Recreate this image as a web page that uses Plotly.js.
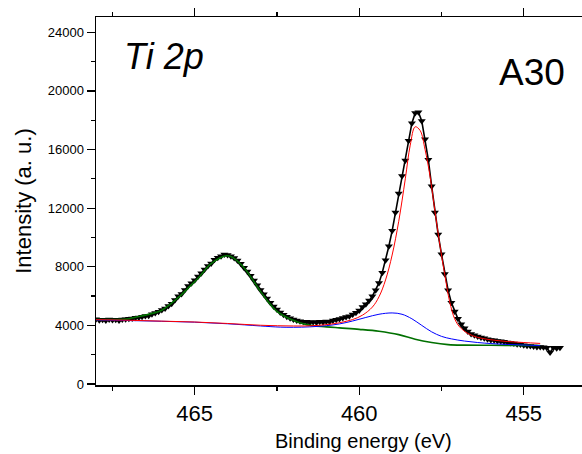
<!DOCTYPE html>
<html>
<head>
<meta charset="utf-8">
<script src="https://cdn.plot.ly/plotly-3.0.1.min.js"></script>
<style>html,body{margin:0;padding:0;background:#fff;}#chart{width:582px;height:454px;}</style>
</head>
<body>
<div id="chart"></div>
<script>
// Measured spectrum (binding energy in eV, intensity in counts)
const measEnergy = [
468.0,467.9,467.8,467.7,467.6,467.5,467.4,467.3,467.2,467.1,
467.0,466.9,466.8,466.7,466.6,466.5,466.4,466.3,466.2,466.1,
466.0,465.9,465.8,465.7,465.6,465.5,465.4,465.3,465.2,465.1,
465.0,464.9,464.8,464.7,464.6,464.5,464.4,464.3,464.2,464.1,
464.0,463.9,463.8,463.7,463.6,463.5,463.4,463.3,463.2,463.1,
463.0,462.9,462.8,462.7,462.6,462.5,462.4,462.3,462.2,462.1,
462.0,461.9,461.8,461.7,461.6,461.5,461.4,461.3,461.2,461.1,
461.0,460.9,460.8,460.7,460.6,460.5,460.4,460.3,460.2,460.1,
460.0,459.9,459.8,459.7,459.6,459.5,459.4,459.3,459.2,459.1,
459.0,458.9,458.8,458.7,458.6,458.5,458.4,458.3,458.2,458.1,
458.0,457.9,457.8,457.7,457.6,457.5,457.4,457.3,457.2,457.1,
457.0,456.9,456.8,456.7,456.6,456.5,456.4,456.3,456.2,456.1,
456.0,455.9,455.8,455.7,455.6,455.5,455.4,455.3,455.2,455.1,
455.0,454.9,454.8,454.7,454.6,454.5,454.4,454.3,454.2,454.1,
454.0,453.9];
const measIntensity = [
4420,4350,4390,4330,4400,4360,4380,4330,4410,4420,
4450,4470,4520,4540,4590,4640,4660,4760,4850,4930,
5050,5160,5330,5480,5740,5980,6150,6420,6690,6880,
7080,7330,7560,7820,8060,8230,8480,8620,8720,8830,
8810,8720,8600,8430,8200,7940,7680,7380,7060,6740,
6420,6120,5830,5540,5290,5080,4880,4720,4590,4480,
4400,4330,4290,4250,4240,4200,4230,4190,4240,4210,
4270,4250,4330,4380,4430,4500,4570,4620,4740,4860,
5020,5250,5450,5690,5990,6400,6900,7600,8450,9400,
10450,11700,13000,14200,15250,16600,17800,18500,18550,17950,
16700,15300,13500,11700,10200,8850,7500,6400,5550,4950,
4450,4080,3800,3580,3420,3320,3240,3180,3120,3060,
3010,2980,2940,2920,2880,2840,2800,2760,2720,2690,
2640,2610,2590,2560,2530,2530,2500,2480,2150,2470,
2440,2480];

// Fit component: Ti 2p3/2 (red) incl. background
const redEnergy = [468.0,467.0,466.0,465.0,464.0,463.0,462.0,461.5,461.0,460.6,460.2,459.9,459.6,459.4,459.2,459.0,458.8,458.6,458.45,458.3,458.15,458.0,457.85,457.7,457.55,457.4,457.25,457.1,456.95,456.7,456.4,456.0,455.5,455.0,454.5];
const redIntensity = [4390,4350,4290,4230,4130,4010,3960,3970,4050,4180,4400,4700,5250,5950,7100,8800,11100,14000,16300,17550,17300,16000,14200,11800,9500,7450,5600,4450,3900,3450,3180,3020,2900,2830,2770];

// Fit component: secondary Ti species (blue) incl. background
const blueEnergy = [468.0,467.0,466.0,465.0,464.0,463.0,462.4,462.0,461.5,461.0,460.6,460.2,459.8,459.4,459.0,458.7,458.4,458.1,457.8,457.5,457.2,456.8,456.4,456.0,455.5,455.0,454.5];
const blueIntensity = [4370,4330,4280,4220,4110,3960,3880,3870,3900,3980,4100,4300,4540,4760,4850,4760,4450,4000,3560,3250,3080,2930,2830,2760,2700,2660,2620];

// Fit component: Ti 2p1/2 (green) incl. background
const greenEnergy = [468.0,467.5,467.0,466.8,466.5,466.2,466.0,465.76,465.46,465.15,464.85,464.54,464.24,464.05,463.9,463.54,463.24,462.93,462.5,462.1,461.6,461.0,460.6,460.0,459.4,458.8,458.3,457.8,457.3,456.8,456.0,455.0,454.5];
const greenIntensity = [4390,4400,4450,4560,4700,4870,5030,5420,5980,6660,7340,8140,8600,8750,8700,8030,7120,6100,4960,4440,4050,3900,3830,3730,3600,3370,3050,2830,2690,2650,2640,2635,2630];

const xTickVals = [465, 460, 455];
const xTickText = ['465', '460', '455'];
const yTickVals = [0, 4000, 8000, 12000, 16000, 20000, 24000];
const yTickText = ['0', '4000', '8000', '12000', '16000', '20000', '24000'];

const traces = [
  {x: measEnergy, y: measIntensity, type: 'scatter', mode: 'lines+markers',
   line: {color: '#000', width: 1.6},
   marker: {symbol: 'triangle-down', size: 7, color: '#000'}, hoverinfo: 'skip'},
  {x: greenEnergy, y: greenIntensity, type: 'scatter', mode: 'lines',
   line: {color: '#007000', width: 1.6, shape: 'spline', smoothing: 1}},
  {x: blueEnergy, y: blueIntensity, type: 'scatter', mode: 'lines',
   line: {color: '#0000ff', width: 1, shape: 'spline', smoothing: 1}},
  {x: redEnergy, y: redIntensity, type: 'scatter', mode: 'lines',
   line: {color: '#ff0000', width: 1, shape: 'spline', smoothing: 1}}
];

const fontFam = 'Liberation Sans, Arial, sans-serif';
const layout = {
  width: 582, height: 454,
  margin: {l: 96, r: 0, t: 17, b: 68.5, pad: 0},
  paper_bgcolor: '#fff', plot_bgcolor: '#fff',
  showlegend: false,
  font: {family: fontFam, color: '#000'},
  xaxis: {
    range: [468.0, 453.23], autorange: false,
    showgrid: false, zeroline: false,
    showline: true, linecolor: '#000', linewidth: 1.5,
    mirror: 'ticks',
    ticks: 'outside', ticklen: 8, tickwidth: 1.2, tickcolor: '#000',
    tickmode: 'array', tickvals: xTickVals, ticktext: xTickText,
    tickfont: {size: 22, family: fontFam},
    minor: {tickmode: 'array', tickvals: [467.5, 462.5, 457.5], ticks: 'outside', ticklen: 4, tickwidth: 1.2, tickcolor: '#000', showgrid: false}
  },
  yaxis: {
    range: [-68, 25043], autorange: false,
    showgrid: false, zeroline: false,
    showline: true, linecolor: '#000', linewidth: 1.5,
    ticks: 'outside', ticklen: 8, tickwidth: 1.2, tickcolor: '#000',
    tickmode: 'array', tickvals: yTickVals, ticktext: yTickText,
    tickfont: {size: 13, family: fontFam},
    minor: {tickmode: 'array', tickvals: [2000, 6000, 10000, 14000, 18000, 22000], ticks: 'outside', ticklen: 4, tickwidth: 1.2, tickcolor: '#000', showgrid: false},
    title: {text: 'Intensity (a. u.)', font: {size: 22, family: fontFam}, standoff: 10}
  },
  annotations: [
    {xref: 'paper', yref: 'paper', x: 0.0535, y: 0.8915, xanchor: 'left', yanchor: 'middle',
     text: '<i>Ti 2p</i>', showarrow: false, font: {size: 36, family: fontFam, color: '#000'}},
    {xref: 'paper', yref: 'paper', x: 0.8245, y: 0.848, xanchor: 'left', yanchor: 'middle',
     text: 'A30', showarrow: false, font: {size: 37, family: fontFam, color: '#000'}},
    {xref: 'paper', yref: 'paper', x: 0.5514, y: -0.116, xanchor: 'center', yanchor: 'top',
     text: 'Binding energy (eV)', showarrow: false, font: {size: 20, family: fontFam, color: '#000'}}
  ]
};

Plotly.newPlot('chart', traces, layout, {displayModeBar: false, staticPlot: true});
</script>
</body>
</html>
